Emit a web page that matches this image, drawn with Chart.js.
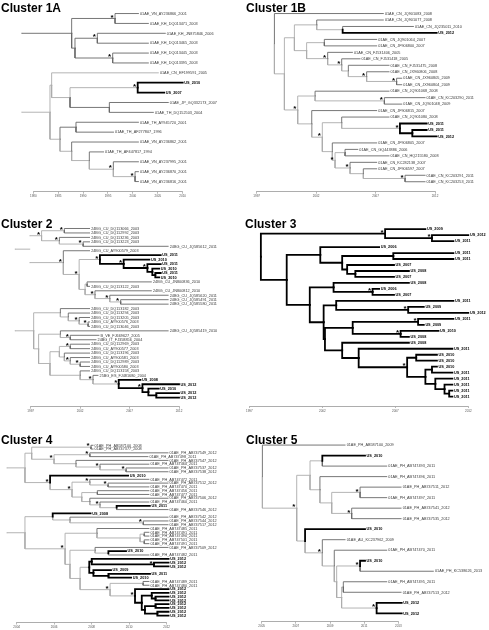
<!DOCTYPE html>
<html><head><meta charset="utf-8">
<script src="https://cdn.jsdelivr.net/npm/chart.js@4.4.1/dist/chart.umd.min.js"></script>
<style>
html,body{margin:0;padding:0;background:#fff;}
#page{position:relative;width:489px;height:630px;overflow:hidden;background:#fff;}
#page canvas{position:absolute;}
.title{position:absolute;font:bold 12px "Liberation Sans",Arial,Helvetica,sans-serif;line-height:12px;color:#000;white-space:nowrap;z-index:2;}
</style></head><body><div id="page"></div>
<script>
// ---------------- DATA ----------------
const titles = ["Cluster 1A","Cluster 1B","Cluster 2","Cluster 3","Cluster 4","Cluster 5"];

const ticks1A = [1980,1985,1990,1995,2000,2005,2010];
const names1A = ["01AE_VN_AY236866_2001","01AE_KH_DQ013471_2003","01AE_KH_JN875846_2006","01AE_KH_DQ013465_2003","01AE_KH_DQ013445_2003","01AE_KH_DQ013395_2003","01AE_CN_EF199591_2005","US_2010","US_2007","01AE_JP_GQ332173_2007","01AE_TH_DQ152503_2004","01AE_TH_AY945720_2001","01AE_TH_AF277807_1996","01AE_VN_AY236862_2001","01AE_TH_AF447817_1994","01AE_VN_AY237995_2001","01AE_VN_AY236870_2001","01AE_VN_AY236816_2001"];
const years1A = [2001.1,2003.1,2006.5,2003.1,2003.1,2003.1,2005.1,2010.0,2006.3,2007.1,2004.1,2001.1,1996.1,2001.1,1994.1,2001.1,2001.1,2001.1];
// topology: tip numbers, internal node time after '@', '*' = supported node, '!' = alternate shade
const tree1A = "(((1,2)*!@1996.41,((3,4)*!@1992.86,(5,6)*!@1995.94)!@1988.37)!@1987.7,((7!,((8,9)*@2000.96,(10,11)!@1995.27)@1987.37)@1983.68,((12,13)!@1988.57,(14,(15,(16,(17,18)*@2000.43)*@1996.07)@1991.25)@1987.7)@1985.36)@1983.35)@1977.66";

const ticks1B = [1997,2002,2007,2012];
const names1B = ["01AE_CN_JQ901083_2008","01AE_CN_JQ901077_2008","01AE_CN_JQ235011_2010","US_2012","01AE_CN_JQ901064_2007","01AE_CN_JF906800_2007","01AE_CN_FJ531406_2005","01AE_CN_FJ531418_2005","01AE_CN_FJ531475_2008","01AE_CN_JX960806_2008","01AE_CN_JX960805_2009","01AE_CN_JX960804_2009","01AE_CN_JQ901068_2008","01AE_CN_KC203290_2011","01AE_CN_JQ901048_2009","01AE_CN_JF906815_2007","01AE_CN_JQ901080_2008","US_2011","US_2011","US_2012","01AE_CN_JF906805_2007","01AE_CN_GQ443886_2006","01AE_CN_HQ215580_2008","01AE_CN_KC282138_2007","01AE_CN_JF906597_2007","01AE_CN_KC203291_2011","01AE_CN_KC203253_2011"];
const years1B = [2007.65,2007.65,2010.18,2012.14,2007.09,2007.09,2005.05,2005.69,2008.13,2008.13,2009.2,2009.2,2008.13,2011.16,2009.2,2007.09,2008.13,2011.3,2011.3,2012.14,2007.09,2005.5,2008.13,2007.09,2007.09,2011.16,2011.16];
const tree1B = "(1,(((2,(3,4)@2004.23)@2002.05,((5,6)@2002.69,(7,(8,(9,(10,(11,12)*@2008.77)*@2006.25)@2004.71)*@2004.15)*@2002.97)@2001.2)@2000.17,((13,(14,15)*@2007.74)@2001.91,(16,((17,(18,(19,20)@2010.09)*@2009.05)@2004.15,(21,((22,23)@2004.43,(24,(25,(26,27)*@2009.48)@2005.97)*@2004.85)*@2003.59)@2003.36)*@2002.52)@2001.63)*@2000.45)@1999.33)@1998.49";

const ticks2 = [1997,2002,2007,2012];
const names2 = ["24BG_CU_DQ113066_2003","24BG_CU_DQ112992_2003","24BG_CU_DQ113236_2003","24BG_CU_DQ113223_2003","24BG_CU_JQ585612_2011","24BG_CU_AY900579_2003","US_2011","US_2010","US_2011","US_2010","US_2011","US_2010","24BG_CU_JN800836_2010","24BG_CU_DQ113122_2003","24BG_CU_JN800812_2010","24BG_CU_JQ585620_2011","24BG_CU_JQ585491_2011","24BG_CU_JQ585580_2011","24BG_CU_DQ113182_2003","24BG_CU_DQ113294_2003","24BG_CU_DQ113205_2003","24BG_CU_AY900576_2003","24BG_CU_DQ113046_2003","24BG_CU_JQ585419_2010","B_VE_FJ669627_2005","24BG_IT_FJ358856_2004","24BG_CU_DQ112969_2003","24BG_CU_AY900577_2003","24BG_CU_DQ113196_2003","24BG_CU_AY900581_2003","24BG_CU_DQ112989_2003","24BG_CU_AY900580_2003","24BG_CU_DQ113158_2003","25BG_ES_FJ481680_2004","US_2008","US_2012","US_2010","US_2012","US_2012"];
const years2 = [2002.95,2002.95,2002.95,2002.95,2010.9,2002.95,2010.15,2009.0,2010.15,2010.0,2010.15,2010.0,2009.2,2002.95,2009.2,2010.9,2010.9,2010.9,2002.95,2002.95,2002.95,2002.95,2002.95,2010.9,2003.9,2003.6,2002.95,2002.95,2002.95,2002.95,2002.95,2002.95,2002.95,2003.8,2008.1,2012.0,2009.95,2012.0,2012.0];
const tree2 = "((((1,2)*@2000.4,(3,(4,5)*@2002.3)*@1999.9)*@1998.1,(6,((7,(8,(9,(10,(11,12)@2009.6)@2009.3)*@2008.8)*@2006.4)*@2004.0,((13,14)@2002.7,(15,(16,(17,18)*@2006.1)*@2005.0)*@2003.5)@2002.5)*@2001.9)*@2000.3)@1996.9,((19,(20,(21,(22,23)*@2002.8)*@2001.9)@2000.8)@2000.0,((24,(25,26)*@2001.0)@2000.0,(((27,28)*@2001.0,(29,(30,(31,32)*@2002.0)*@2001.0)@2000.4)@1999.9,(33,(34,(35,(36,(37,(38,39)@2009.7)@2008.9)*@2008.3)*@2005.9)*@2003.3)@2002.0)@1998.95)@1997.8)@1997.3)@1995.4";

const ticks3 = [1997,2002,2007,2012];
const names3 = ["US_2009","US_2012","US_2011","US_2006","US_2011","US_2011","US_2007","US_2008","US_2007","US_2008","US_2006","US_2007","US_2011","US_2009","US_2012","US_2011","US_2009","US_2010","US_2008","US_2008","US_2011","US_2010","US_2010","US_2010","US_2011","US_2011","US_2011","US_2011","US_2011"];
const years3 = [2009.06,2012.0,2010.98,2005.89,2010.98,2010.98,2006.91,2007.93,2006.91,2007.93,2005.89,2006.91,2010.98,2008.95,2012.0,2010.98,2008.95,2009.96,2007.93,2007.93,2010.91,2009.85,2009.85,2009.85,2010.91,2010.91,2010.91,2010.91,2010.91];
const tree3 = "((1,(2,3)*@2009.51)*@2006.30,((4,((5,6)@2006.86,(7,(8,9)@2004.26)@2003.70)@2003.36)@2001.86,((10,(11,12)*@2005.44)@2002.77,((13,(14,15)*@2007.88)@2002.95,(((16,17)*@2008.56,(18,19)*@2007.36)@2004.08,(20,(21,((22,23)@2008.43,((24,25)@2009.51,(26,(27,(28,29)@2010.69)@2010.37)@2009.74)@2009.06)*@2007.81)@2004.49)@2003.36)@2002.18)@2002.09)@2001.14)@1999.56)@1997.79";

const ticks4 = [2004,2006,2008,2010,2012];
const names4 = ["01AE_PH_AB587100_2008","01AE_PH_AB747377_2008","01AE_PH_AB747549_2012","01AE_PH_AB747498_2011","01AE_PH_AB747547_2012","01AE_PH_AB747460_2011","01AE_PH_AB747537_2012","01AE_PH_AB747538_2012","US_2010","01AE_PH_AB747472_2011","01AE_PH_AB747512_2012","01AE_PH_AB747470_2011","01AE_PH_AB747456_2011","01AE_PH_AB747477_2011","01AE_PH_AB747506_2012","01AE_PH_AB747460_2011","US_2011","01AE_PH_AB747546_2012","US_2008","01AE_PH_AB747542_2012","01AE_PH_AB747544_2012","01AE_PH_AB747517_2012","01AE_PH_AB747485_2011","01AE_PH_AB747491_2011","01AE_PH_AB747490_2011","01AE_PH_AB747501_2011","01AE_PH_AB747491_2011","01AE_PH_AB747509_2012","US_2010","01AE_PH_AB747482_2011","US_2012","US_2012","US_2012","US_2009","US_2011","US_2010","01AE_PH_AB747489_2011","01AE_PH_AB747480_2011","US_2012","US_2012","US_2012","US_2012","US_2012","US_2012","US_2012","US_2012"];
const years4 = [2008.07,2008.07,2012.07,2011.0,2012.07,2011.05,2012.07,2012.07,2009.94,2011.05,2012.07,2011.05,2011.05,2011.05,2012.07,2011.05,2011.1,2012.07,2007.94,2012.07,2012.07,2012.07,2011.05,2011.05,2011.05,2011.05,2011.05,2012.07,2009.83,2011.05,2012.1,2012.1,2012.1,2009.03,2011.11,2010.1,2011.05,2011.05,2012.1,2012.1,2012.1,2012.1,2012.1,2012.1,2012.1,2012.1];
const tree4 = "((((1,2)*@2007.96,((3,4)*@2007.9,(5,(6,(7,8)*@2009.83)*@2008.44)@2007.16)*@2005.99)@2004.8,(9,((10,(11,12)*@2008.87)*@2007.9,((13,14)@2008.3,(15,(16,(17,18)@2009.33)*@2008.44)@2007.9)@2007.47)*@2006.95)*@2005.78)@2004.44,((19,(20,(21,22)*@2010.75)@2006.84)@2005.92,((23,((24,25)@2010.8,(26,27)@2010.8)@2010.58)@2008.28,((28,(29,30)@2008.89)@2008.18,(((31,(32,33)*@2011.32)@2008.0,(34,(35,36)@2008.89)@2008.09)@2007.87,((37,38)@2010.74,(39,((40,(41,42)@2011.4)@2011.2,((43,44)@2011.4,(45,46)@2011.5)@2010.84)@2010.67)*@2010.31)*@2008.98)@2007.38)@2006.84)*@2006.58)@2004.44)@2003.47";

const ticks5 = [2005,2007,2009,2011,2013];
const names5 = ["01AE_PH_AB587100_2009","US_2010","01AE_PH_AB747493_2011","01AE_PH_AB747496_2011","01AE_PH_AB747511_2012","01AE_PH_AB747497_2011","01AE_PH_AB747541_2012","01AE_PH_AB747535_2012","US_2010","01AE_AU_KC237962_2009","01AE_PH_AB747470_2011","US_2010","01AE_PH_KC538626_2013","01AE_PH_AB747495_2011","01AE_PH_AB747513_2012","US_2012","US_2012"];
const years5 = [2009.88,2011.05,2012.32,2012.32,2013.16,2012.32,2013.16,2013.16,2011.05,2009.88,2012.32,2011.05,2015.05,2012.32,2013.16,2013.2,2013.2];
const tree5 = "(1,(((2,3)@2008.55,(4,((5,6)*@2010.76,(7,8)*@2010.27)@2009.1)@2008.41)@2007.83,(9,(10,(11,((12,13)*@2010.76,((14,15)@2009.78,(16,17)*@2011.73)@2009.68)@2009.39)@2009.25)*@2008.55)@2007.54)*@2007.05)@2005.04";

// ---------------- LAYOUT / STYLE ----------------
const FONT = '"Liberation Sans", Arial, Helvetica, sans-serif';
const DARK = '#686868', LIGHT = '#ababab', BOLD = '#000000';
const LABEL_SIZE = 3.8;
const panels = [
  {title:titles[0], names:names1A, years:years1A, tree:tree1A, ticks:ticks1A, left:0,   top:0,   w:245, h:205, x0:33.3,  x1:182.7, axisY:191.7, row1:12.7,  step:9.93, tx:1,   ty:2.2},
  {title:titles[1], names:names1B, years:years1B, tree:tree1B, ticks:ticks1B, left:245, top:0,   w:244, h:205, x0:256.7, x1:435.0, axisY:191.7, row1:12.7,  step:6.5,  tx:246, ty:2.2},
  {title:titles[2], names:names2,  years:years2,  tree:tree2,  ticks:ticks2,  left:0,   top:205, w:245, h:210, x0:30.7,  x1:179.0, axisY:406.7, row1:227.7, step:4.47, tx:1,   ty:218.3},
  {title:titles[3], names:names3,  years:years3,  tree:tree3,  ticks:ticks3,  left:245, top:205, w:244, h:210, x0:247.3, x1:468.3, axisY:406.0, row1:228.3, step:6.01, tx:245, ty:218.3},
  {title:titles[4], names:names4,  years:years4,  tree:tree4,  ticks:ticks4,  left:0,   top:415, w:245, h:215, x0:16.7,  x1:166.7, axisY:622.5, row1:444.5, step:3.8,  tx:1,   ty:433.8},
  {title:titles[5], names:names5,  years:years5,  tree:tree5,  ticks:ticks5,  left:245, top:415, w:244, h:215, x0:261.7, x1:398.3, axisY:621.7, row1:444.3, step:10.56,tx:246, ty:433.8}
];

function parseTree(str){
  let i = 0;
  function flags(n){
    while (str[i] === '*' || str[i] === '!') { if (str[i] === '*') n.star = true; else n.toggle = true; i++; }
  }
  function node(){
    const n = {children:[], star:false, toggle:false};
    if (str[i] === '(') {
      i++;
      n.children.push(node());
      while (str[i] === ',') { i++; n.children.push(node()); }
      if (str[i] !== ')') throw new Error('tree parse error at ' + i + ' in ' + str.slice(0,30));
      i++;
      flags(n);
      if (str[i] !== '@') throw new Error('missing time at ' + i);
      i++;
      const m = /^[0-9.]+/.exec(str.slice(i));
      n.time = parseFloat(m[0]); i += m[0].length;
    } else {
      const m = /^[0-9]+/.exec(str.slice(i));
      if (!m) throw new Error('bad tip at ' + i);
      n.tip = parseInt(m[0], 10); i += m[0].length;
      flags(n);
    }
    return n;
  }
  const root = node();
  if (i !== str.length) throw new Error('trailing chars at ' + i);
  return root;
}

const page = document.getElementById('page');

function buildPanel(p){
  const root = parseTree(p.tree);
  const all = [];
  (function walk(n, parent){
    n.parent = parent; all.push(n);
    if (n.tip != null) {
      n.row = n.tip; n.time = p.years[n.tip-1]; n.name = p.names[n.tip-1];
      n.us = n.name.indexOf('US_') === 0;
    } else {
      n.children.forEach(c => walk(c, n));
      n.row = n.children.reduce((s,c)=>s+c.row,0) / n.children.length;
      n.us = n.children.every(c => c.us);
    }
  })(root, null);

  const datasets = [];
  all.forEach(n => {
    if (!n.parent) return;
    const isTip = n.tip != null;
    const bold = n.us && (isTip || n.parent.us);
    let light = !isTip; if (n.toggle) light = !light;
    datasets.push({
      data: [{x:n.parent.time, y:n.parent.row},{x:n.parent.time, y:n.row},{x:n.time, y:n.row}],
      showLine: true, borderColor: bold ? BOLD : (light ? LIGHT : DARK),
      borderWidth: bold ? 1.8 : 0.9, pointRadius: 0, pointHoverRadius: 0,
      fill: false, tension: 0, clip: false, borderJoinStyle: 'miter', borderCapStyle: 'square',
      order: bold ? 0 : (light ? 2 : 1)
    });
  });
  const tips = all.filter(n => n.tip != null);
  const stars = all.filter(n => n.star);

  const cv = document.createElement('canvas');
  cv.width = p.w; cv.height = p.h;
  cv.style.left = p.left + 'px'; cv.style.top = p.top + 'px';
  cv.style.width = p.w + 'px'; cv.style.height = p.h + 'px';
  page.appendChild(cv);

  const t = document.createElement('div');
  t.className = 'title'; t.textContent = p.title;
  t.style.left = p.tx + 'px'; t.style.top = p.ty + 'px';
  page.appendChild(t);

  const textPlugin = {
    id: 'treeText',
    afterDatasetsDraw(chart){
      const ctx = chart.ctx, xs = chart.scales.x, ys = chart.scales.y;
      ctx.save();
      ctx.textAlign = 'left'; ctx.textBaseline = 'middle';
      tips.forEach(n => {
        ctx.font = (n.us ? 'bold ' : '') + LABEL_SIZE + 'px ' + FONT;
        ctx.fillStyle = n.us ? '#000' : '#3a3a3a';
        ctx.fillText(n.name, xs.getPixelForValue(n.time) + 1.6, ys.getPixelForValue(n.row) + 0.2);
      });
      ctx.font = 'bold 8px ' + FONT; ctx.fillStyle = '#000';
      ctx.textAlign = 'center'; ctx.textBaseline = 'alphabetic';
      stars.forEach(n => {
        ctx.fillText('*', xs.getPixelForValue(n.time) - 3, ys.getPixelForValue(n.row) + 1.2);
      });
      ctx.restore();
    }
  };

  const padL = p.x0 - p.left, padR = p.left + p.w - p.x1;
  const tk = p.ticks;
  const chart = new Chart(cv, {
    type: 'scatter',
    data: {datasets},
    options: {
      responsive: false, animation: false, devicePixelRatio: 1, events: [],
      layout: {padding: {left: padL, right: padR, top: 0, bottom: 0}},
      plugins: {legend: {display: false}, tooltip: {enabled: false}, title: {display: false}},
      scales: {
        x: {
          type: 'linear', min: tk[0], max: tk[tk.length-1],
          afterBuildTicks: ax => { ax.ticks = tk.map(v => ({value: v})); },
          ticks: {font: {size: 3, family: FONT}, color: '#555', padding: 1, maxRotation: 0, autoSkip: false, callback: v => String(v)},
          grid: {drawOnChartArea: false, drawTicks: true, tickLength: 2, color: '#8a8a8a', lineWidth: 0.6},
          border: {display: true, color: '#8a8a8a', width: 0.7}
        },
        y: {type: 'linear', display: false, reverse: true, min: 0, max: tips.length + 1}
      }
    },
    plugins: [textPlugin]
  });

  // second pass: align chart area with the reference positions
  const ca = chart.chartArea;
  const axisH = p.h - ca.bottom;
  const axisLocal = p.axisY - p.top;
  const wantL = p.x0 - p.left, wantR = p.x1 - p.left;
  chart.options.layout.padding = {
    left: padL + (wantL - ca.left),
    right: padR + (ca.right - wantR),
    top: 0,
    bottom: p.h - axisH - axisLocal
  };
  const topA = ca.top;
  const ymin = 1 - (p.row1 - p.top - topA) / p.step;
  chart.options.scales.y.min = ymin;
  chart.options.scales.y.max = ymin + (axisLocal - topA) / p.step;
  chart.update('none');
}

try {
  panels.forEach(buildPanel);
} catch (e) {
  const d = document.createElement('pre'); d.textContent = String(e); page.appendChild(d);
}
</script></body></html>
